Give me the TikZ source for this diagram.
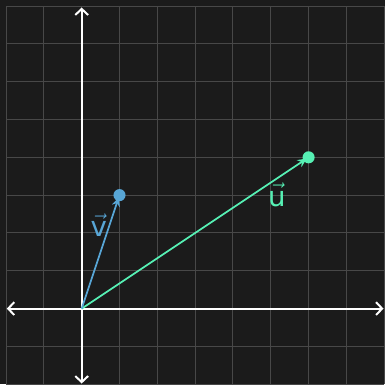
\documentclass[tikz,border=0pt]{standalone}
\usepackage{amsmath}
\usepackage{xcolor,tikz,fontspec}
\setsansfont{DejaVu Sans}
\usetikzlibrary{arrows.meta}
\definecolor{bg}{RGB}{27,27,27}
\definecolor{gridc}{RGB}{72,72,72}
\definecolor{vblue}{RGB}{88,166,214}
\definecolor{umint}{RGB}{86,240,180}
\tikzset{
  gridline/.style={draw=gridc,line width=0.75pt},
  axis/.style={{Straight Barb[length=1.6mm,width=3.4mm]}-{Straight Barb[length=1.6mm,width=3.4mm]},draw=white,line width=1.5pt},
  vec/.style={-{Stealth[length=2.4mm,width=2.2mm]},line width=1.3pt,shorten >=0.6mm},
  tipdot/.style={circle,inner sep=0pt,minimum size=3.2mm},
  lab/.style={font=\huge}
}
\begin{document}
\begin{tikzpicture}
  \fill[bg] (-2.16,-2) rectangle (8.02,8.16);
  \useasboundingbox (-2.16,-2) rectangle (8.02,8.16);
  \draw[gridline] (-2,-2) grid (8,8);
  % axes
  \coordinate (O) at (0,0);
  \coordinate (xl) at (-1.98,0);
  \coordinate (xr) at (7.98,0);
  \coordinate (yb) at (0,-1.98);
  \coordinate (yt) at (0,7.96);
  \draw[axis] (xl)--(xr);
  \draw[axis] (yb)--(yt);
  % vectors
  \coordinate (Ut) at (6,4);
  \coordinate (Vt) at (1,3);
  \draw[vec,umint] (O)--(Ut);
  \draw[vec,vblue] (O)--(Vt);
  \node[tipdot,fill=umint] (U) at (Ut) {};
  \node[tipdot,fill=vblue] (V) at (Vt) {};
  \node[lab,text=umint] (ulab) at (5.16,3.0) {$\vec{\mathsf{u}}$};
  \node[lab,text=vblue] (vlab) at (0.45,2.2) {$\vec{\mathsf{v}}$};
\end{tikzpicture}
\end{document}
